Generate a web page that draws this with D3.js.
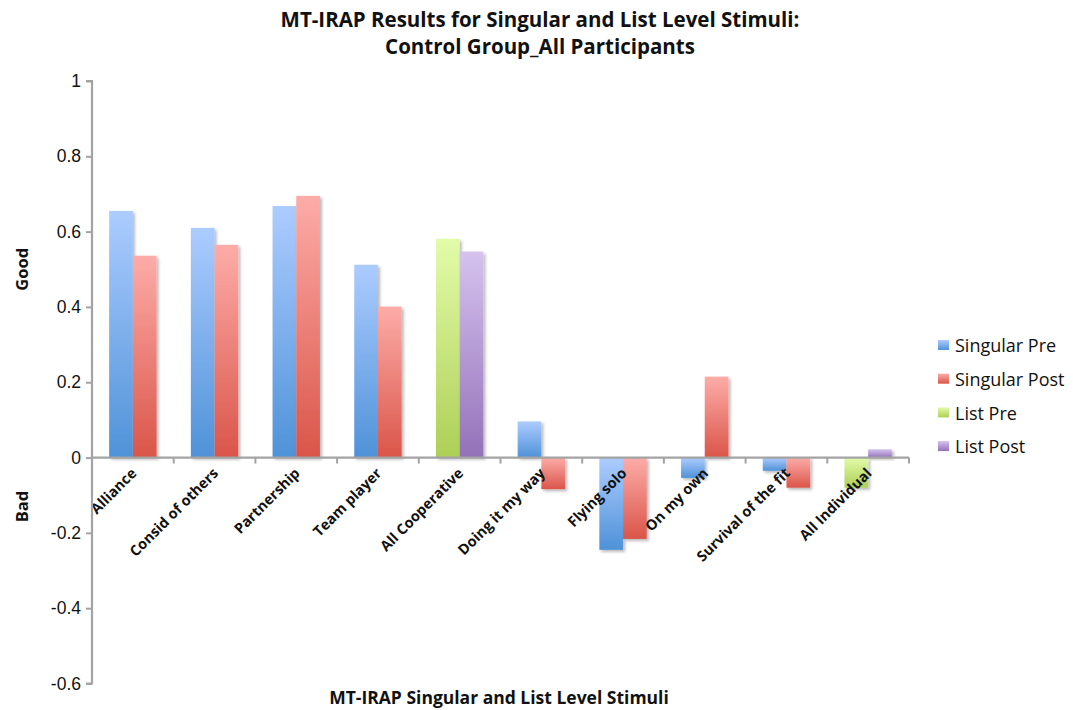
<!DOCTYPE html>
<html>
<head>
<meta charset="utf-8">
<script src="https://cdn.jsdelivr.net/npm/d3@7"></script>
<style>
  html, body { margin: 0; padding: 0; background: #fff; }
  svg { display: block; font-family: "Open Sans", "Liberation Sans", sans-serif; }
</style>
</head>
<body>
<svg id="chart" width="1073" height="710"></svg>
<script>
// Category labels along the x axis
const categories = [
  "Alliance", "Consid of others", "Partnership", "Team player", "All Cooperative",
  "Doing it my way", "Flying solo", "On my own", "Survival of the fit", "All Individual"
];
// Series values (null = no bar for that category)
const singularPre  = [0.655, 0.610, 0.668, 0.512, null, 0.096, -0.245, -0.054, -0.035, null];
const singularPost = [0.536, 0.565, 0.695, 0.401, null, -0.084, -0.216, 0.215, -0.080, null];
const listPre      = [null, null, null, null, 0.581, null, null, null, null, -0.080];
const listPost     = [null, null, null, null, 0.547, null, null, null, null, 0.022];
const seriesNames  = ["Singular Pre", "Singular Post", "List Pre", "List Post"];
const yTicks       = [-0.6, -0.4, -0.2, 0, 0.2, 0.4, 0.6, 0.8, 1];

const series = [
  { name: seriesNames[0], values: singularPre,  slot: 0, top: "#acccff", bottom: "#4f92d8" },
  { name: seriesNames[1], values: singularPost, slot: 1, top: "#fdaca8", bottom: "#da5549" },
  { name: seriesNames[2], values: listPre,      slot: 0, top: "#e2fca9", bottom: "#aecf57" },
  { name: seriesNames[3], values: listPost,     slot: 1, top: "#d5c2ef", bottom: "#9471b8" }
];

const svg = d3.select("#chart");
const axisColor = "#a3a3a3";

const x = d3.scaleBand().domain(categories).range([92, 909]).padding(0);
const slot = d3.scaleBand().domain([0, 1]).range([x.bandwidth() * 0.21, x.bandwidth() * 0.79]).padding(0);
const y = d3.scaleLinear().domain([-0.6, 1]).range([683.5, 81]);

// gradients + soft shadow
const defs = svg.append("defs");
series.forEach((s, i) => {
  const g = defs.append("linearGradient").attr("id", "grad" + i)
    .attr("x1", 0).attr("y1", 0).attr("x2", 0).attr("y2", 1);
  g.append("stop").attr("offset", "0%").attr("stop-color", s.top);
  g.append("stop").attr("offset", "100%").attr("stop-color", s.bottom);
});
const shadow = defs.append("filter").attr("id", "shadow")
  .attr("x", "-20%").attr("y", "-20%").attr("width", "150%").attr("height", "150%");
shadow.append("feDropShadow").attr("dx", 2).attr("dy", 2).attr("stdDeviation", 1.8)
  .attr("flood-color", "#000").attr("flood-opacity", 0.28);

// bars
const barLayer = svg.append("g");
series.forEach((s, i) => {
  const rows = categories.map((c, k) => ({ c, v: s.values[k] })).filter(d => d.v !== null);
  barLayer.selectAll(null).data(rows).enter().append("rect")
    .attr("x", d => x(d.c) + slot(s.slot))
    .attr("width", slot.bandwidth())
    .attr("y", d => y(Math.max(0, d.v)))
    .attr("height", d => Math.abs(y(d.v) - y(0)))
    .attr("fill", `url(#grad${i})`)
    .attr("filter", "url(#shadow)");
});

// category labels, rotated, drawn over the bars
svg.append("g").selectAll("text").data(categories).enter().append("text")
  .attr("transform", d => `translate(${x(d) + x.bandwidth() / 2 + 1},${y(0) + 13}) rotate(-45)`)
  .attr("text-anchor", "end")
  .attr("dy", "0.35em")
  .style("font-size", "14.5px").style("font-weight", "bold").attr("fill", "#111")
  .text(d => d);

// y axis
const yAxis = svg.append("g").attr("transform", "translate(92,0)")
  .call(d3.axisLeft(y).tickValues(yTicks).tickSize(6).tickPadding(5).tickFormat(d => String(+d.toFixed(1))));
yAxis.select(".domain").attr("stroke", axisColor).attr("stroke-width", 2.2).attr("d", `M-6,${y(1)}H0V${y(-0.6)}H-6`);
yAxis.selectAll(".tick line").attr("stroke", axisColor).attr("stroke-width", 2);
yAxis.selectAll(".tick text").attr("fill", "#111").style("font-size", "17.5px")
  .style("font-family", "'Liberation Sans', 'Open Sans', sans-serif");

// x axis at zero
const xAxisG = svg.append("g").attr("transform", `translate(0,${y(0)})`);
xAxisG.append("line").attr("x1", 92).attr("x2", 909).attr("stroke", axisColor).attr("stroke-width", 2.2);
const bounds = categories.map(c => x(c)).concat([x.range()[1]]);
xAxisG.selectAll("line.tk").data(bounds).enter().append("line").attr("class", "tk")
  .attr("x1", d => d).attr("x2", d => d).attr("y1", 0).attr("y2", 6)
  .attr("stroke", axisColor).attr("stroke-width", 2);

// titles
const title = svg.append("text").attr("x", 540).attr("text-anchor", "middle")
  .style("font-size", "20.5px").style("font-weight", "bold").attr("fill", "#111");
title.append("tspan").attr("x", 540).attr("y", 27).text("MT-IRAP Results for Singular and List Level Stimuli:");
title.append("tspan").attr("x", 540).attr("y", 54).text("Control Group_All Participants");

svg.append("text").attr("x", 499).attr("y", 704).attr("text-anchor", "middle")
  .style("font-size", "17.5px").style("font-weight", "bold").attr("fill", "#111")
  .text("MT-IRAP Singular and List Level Stimuli");

svg.append("text").attr("transform", `translate(28,${y(0.5)}) rotate(-90)`).attr("text-anchor", "middle")
  .style("font-size", "16.5px").style("font-weight", "bold").attr("fill", "#111").text("Good");
svg.append("text").attr("transform", `translate(28,${y(-0.13)}) rotate(-90)`).attr("text-anchor", "middle")
  .style("font-size", "16.5px").style("font-weight", "bold").attr("fill", "#111").text("Bad");

// legend
const legend = svg.append("g").attr("transform", "translate(938,341)");
const li = legend.selectAll("g").data(series).enter().append("g")
  .attr("transform", (d, i) => `translate(0,${i * 33.7})`);
li.append("rect").attr("width", 11).attr("height", 10).attr("y", -1)
  .attr("fill", (d, i) => `url(#grad${i})`);
li.append("text").attr("x", 17).attr("y", 5).attr("dy", "0.35em")
  .style("font-size", "18px").attr("fill", "#111").text(d => d.name);
</script>
</body>
</html>
